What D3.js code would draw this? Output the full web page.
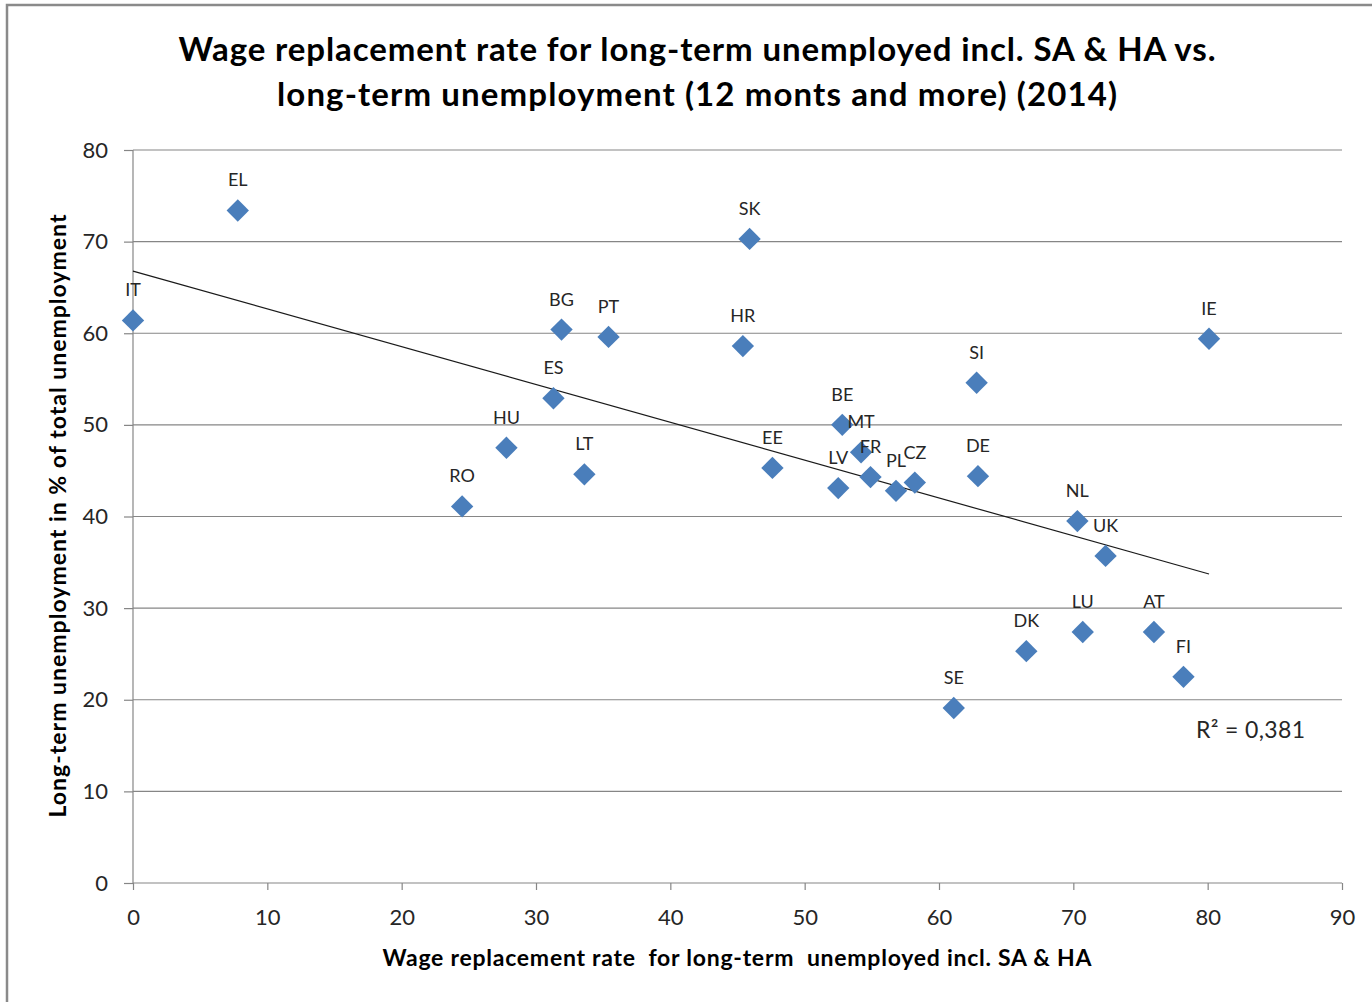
<!DOCTYPE html>
<html><head><meta charset="utf-8">
<script src="https://cdn.jsdelivr.net/npm/d3@7"></script>
<style>body{margin:0;background:#fff;} svg{display:block;font-family:Lato,"Open Sans",sans-serif;}</style>
</head><body>
<svg id="c" width="1372" height="1002"></svg>
<script>
const countries = ["IT","EL","SK","BG","PT","HR","IE","ES","SI","BE","MT","HU","LT","EE","LV","FR","PL","CZ","DE","RO","NL","UK","LU","AT","DK","FI","SE"];
const wageReplacement = [0.0,7.8,45.9,31.9,35.4,45.4,80.1,31.3,62.8,52.8,54.2,27.8,33.6,47.6,52.5,54.9,56.8,58.2,62.9,24.5,70.3,72.4,70.7,76.0,66.5,78.2,61.1];
const longTermUnemp = [61.4,73.4,70.3,60.4,59.6,58.6,59.4,52.9,54.6,50.0,47.0,47.5,44.6,45.3,43.1,44.3,42.8,43.7,44.4,41.1,39.5,35.7,27.4,27.4,25.3,22.5,19.1];
const xTicks = [0,10,20,30,40,50,60,70,80,90];
const yTicks = [0,10,20,30,40,50,60,70,80];
const titleLines = ["Wage replacement rate for long-term unemployed incl. SA & HA vs.","long-term unemployment (12 monts and more) (2014)"];
const xTitle = "Wage replacement rate  for long-term  unemployed incl. SA & HA";
const yTitle = "Long-term unemployment in % of total unemployment";
const r2Label = "R² = 0,381";

const svg = d3.select("#c");
const L = 133, R = 1342, T = 150, B = 883;
const x = d3.scaleLinear().domain([0,90]).range([L,R]);
const y = d3.scaleLinear().domain([0,80]).range([B,T]);
const gray = "#868686";

// frame
svg.append("rect").attr("x",7).attr("y",5).attr("width",1372).attr("height",1010)
  .attr("fill","none").attr("stroke","#8a8a8a").attr("stroke-width",2.5);

// title
const titleW = [1037, 840];
svg.append("g").selectAll("text").data(titleLines).join("text")
  .attr("x",697).attr("y",(d,i)=>61+i*45).attr("text-anchor","middle")
  .attr("font-size",33).attr("font-weight","bold").attr("fill","#000")
  .attr("textLength",(d,i)=>titleW[i]).attr("lengthAdjust","spacing")
  .text(d=>d);

// gridlines
svg.append("g").selectAll("line").data(yTicks.filter(d=>d>0)).join("line")
  .attr("x1",L).attr("x2",R).attr("y1",d=>y(d)).attr("y2",d=>y(d))
  .attr("stroke",gray).attr("stroke-width",1.2);

// y axis
const ya = svg.append("g").attr("transform",`translate(${L},0)`)
  .call(d3.axisLeft(y).tickValues(yTicks).tickSize(9).tickPadding(16));
ya.select(".domain").attr("stroke",gray).attr("stroke-width",1.2).attr("d",`M-0,${B}V${T}`);
ya.selectAll(".tick line").attr("stroke",gray).attr("stroke-width",1.2);
ya.selectAll("text").attr("font-size",22).attr("fill","#262626").attr("font-family","Lato,sans-serif");

// x axis
const xa = svg.append("g").attr("transform",`translate(0,${B})`)
  .call(d3.axisBottom(x).tickValues(xTicks).tickSize(7).tickPadding(19));
xa.select(".domain").attr("stroke",gray).attr("stroke-width",1.2).attr("d",`M${L},0H${R}`);
xa.selectAll(".tick line").attr("stroke",gray).attr("stroke-width",1.2);
xa.selectAll("text").attr("font-size",22).attr("fill","#262626").attr("font-family","Lato,sans-serif");

// axis titles
svg.append("text").attr("x",737).attr("y",966).attr("text-anchor","middle")
  .attr("font-size",23).attr("font-weight","bold").attr("fill","#000")
  .attr("textLength",709).attr("lengthAdjust","spacing")
  .style("white-space","pre").text(xTitle);
svg.append("text").attr("transform","translate(66,516) rotate(-90)").attr("text-anchor","middle")
  .attr("font-size",23).attr("font-weight","bold").attr("fill","#000")
  .attr("textLength",603).attr("lengthAdjust","spacing").text(yTitle);

// trend line (least squares)
const data = countries.map((c,i)=>({c, x:wageReplacement[i], y:longTermUnemp[i]}));
const mx = d3.mean(data,d=>d.x), my = d3.mean(data,d=>d.y);
const slope = d3.sum(data,d=>(d.x-mx)*(d.y-my))/d3.sum(data,d=>(d.x-mx)**2);
const icpt = my - slope*mx;
const [x0,x1] = d3.extent(data,d=>d.x);
svg.append("line").attr("x1",x(x0)).attr("y1",y(icpt+slope*x0)).attr("x2",x(x1)).attr("y2",y(icpt+slope*x1))
  .attr("stroke","#1a1a1a").attr("stroke-width",1.2);

// markers
const sym = d3.symbol().type(d3.symbolSquare).size(250);
svg.append("g").selectAll("path").data(data).join("path")
  .attr("d",sym).attr("fill","#4a7ebb")
  .attr("transform",d=>`translate(${x(d.x)},${y(d.y)}) rotate(45)`);

// labels
svg.append("g").selectAll("text").data(data).join("text")
  .attr("x",d=>x(d.x)).attr("y",d=>y(d.y)-24).attr("text-anchor","middle")
  .attr("font-size",18).attr("fill","#262626").text(d=>d.c);

svg.append("text").attr("x",1196).attr("y",738).attr("font-size",23).attr("fill","#262626")
  .attr("textLength",109).attr("lengthAdjust","spacing").text(r2Label);
</script>
</body></html>
